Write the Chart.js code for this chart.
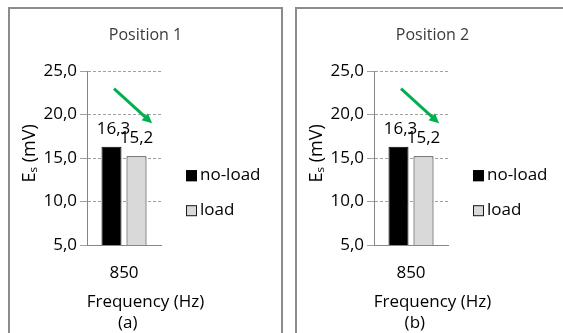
<!DOCTYPE html>
<html>
<head>
<meta charset="utf-8">
<script src="https://cdn.jsdelivr.net/npm/chart.js@4.4.1/dist/chart.umd.min.js"></script>
<style>
  body { margin: 0; background: #fff; width: 563px; height: 333px; overflow: hidden; position: relative; }
  .panel { position: absolute; top: 7px; width: 271px; height: 340px; border: 2px solid #8c8c8c; background: #fff; }
  #p1 { left: 8px; }
  #p2 { left: 295px; }
  canvas { display: block; }
</style>
</head>
<body>
<div class="panel" id="p1"><canvas id="c1" width="271" height="325"></canvas></div>
<div class="panel" id="p2"><canvas id="c2" width="271" height="325"></canvas></div>
<script>
// values
const frequencies = ["850"];
const seriesNames = ["no-load", "load"];
const pos1NoLoad = [16.3];
const pos1Load = [15.2];
const pos2NoLoad = [16.3];
const pos2Load = [15.2];
const yMin = 5;
const yMax = 25;
const yStep = 5;
const panelTitles = ["Position 1", "Position 2"];
const panelTags = ["(a)", "(b)"];

const FONT = "'Open Sans'";
Chart.defaults.font.family = FONT;
Chart.defaults.font.size = 17;
Chart.defaults.color = "#000";

const fmt = (v) => v.toFixed(1).replace(".", ",");

// numbers above the bars
const valueLabels = {
  id: "valueLabels",
  afterDatasetsDraw(chart) {
    const ctx = chart.ctx;
    ctx.save();
    ctx.font = "17px " + FONT;
    ctx.fillStyle = "#000";
    ctx.textAlign = "center";
    ctx.textBaseline = "alphabetic";
    chart.data.datasets.forEach((ds, i) => {
      chart.getDatasetMeta(i).data.forEach((bar, j) => {
        ctx.fillText(fmt(ds.data[j]), bar.x + (i === 0 ? 2 : 0), bar.y - 13);
      });
    });
    ctx.restore();
  },
};

// green arrow pointing from the no-load bar to the load bar
const trendArrow = {
  id: "trendArrow",
  afterDatasetsDraw(chart) {
    const ctx = chart.ctx;
    const y = chart.scales.y;
    const a = chart.getDatasetMeta(0).data[0];
    const b = chart.getDatasetMeta(1).data[0];
    const x0 = a.x + 2.5, y0 = y.getPixelForValue(23.0);
    const x1 = b.x + b.width * 0.78, y1 = y.getPixelForValue(19.0);
    const ang = Math.atan2(y1 - y0, x1 - x0);
    const head = 11;
    ctx.save();
    ctx.strokeStyle = "#00b050";
    ctx.fillStyle = "#00b050";
    ctx.lineWidth = 3;
    ctx.beginPath();
    ctx.moveTo(x0, y0);
    ctx.lineTo(x1 - Math.cos(ang) * head * 0.8, y1 - Math.sin(ang) * head * 0.8);
    ctx.stroke();
    ctx.beginPath();
    ctx.moveTo(x1, y1);
    ctx.lineTo(x1 - head * Math.cos(ang - 0.45), y1 - head * Math.sin(ang - 0.45));
    ctx.lineTo(x1 - head * Math.cos(ang + 0.45), y1 - head * Math.sin(ang + 0.45));
    ctx.closePath();
    ctx.fill();
    ctx.restore();
  },
};

// legend at the right of the plot, like excel puts it
const sideLegend = {
  id: "sideLegend",
  afterDraw(chart) {
    const { ctx, chartArea } = chart;
    ctx.save();
    ctx.font = "17px " + FONT;
    ctx.textBaseline = "middle";
    ctx.textAlign = "left";
    chart.data.datasets.forEach((ds, i) => {
      const x = chartArea.right + 25;
      const y = chartArea.top + 104 + i * 35;
      ctx.fillStyle = ds.backgroundColor;
      ctx.fillRect(x, y - 5, 11, 11);
      ctx.strokeStyle = ds.borderColor;
      ctx.lineWidth = 1;
      ctx.strokeRect(x + 0.5, y - 4.5, 10, 10);
      ctx.fillStyle = "#000";
      ctx.fillText(ds.label, x + 14, y);
    });
    ctx.restore();
  },
};

function makePanel(canvasId, title, tag, noLoad, load) {
  const canvas = document.getElementById(canvasId);
  return new Chart(canvas, {
    type: "bar",
    data: {
      labels: frequencies,
      datasets: [
        {
          label: seriesNames[0],
          data: noLoad,
          backgroundColor: "#000000",
          borderColor: "#000000",
          borderWidth: 1,
        },
        {
          label: seriesNames[1],
          data: load,
          backgroundColor: "#d9d9d9",
          borderColor: "#1a1a1a",
          borderWidth: 1,
        },
      ],
    },
    options: {
      responsive: false,
      animation: false,
      categoryPercentage: 0.676,
      barPercentage: 0.8,
      layout: { padding: 0 },
      plugins: {
        legend: { display: false },
        tooltip: { enabled: false },
        title: {
          display: true,
          text: title,
          color: "#3a3a3a",
          font: { size: 16, weight: "normal" },
          padding: { top: 17, bottom: 26 },
        },
        subtitle: {
          display: true,
          position: "bottom",
          // trailing spaces pull the panel tag under the bars, as in the figure
          text: ["Frequency (Hz)", tag + "        "],
          color: "#000",
          font: { size: 17, lineHeight: 21 / 17 },
          padding: { top: 5, bottom: 0 },
        },
      },
      scales: {
        x: {
          grid: { display: true, color: "rgba(0,0,0,0)", drawTicks: false },
          border: { color: "#868686", width: 1 },
          ticks: { padding: 18, maxRotation: 0, autoSkip: false },
          afterFit: (s) => {
            s.height = 42;
          },
        },
        y: {
          min: yMin,
          max: yMax,
          ticks: { stepSize: yStep, padding: 3, callback: (v) => fmt(v) },
          grid: { color: "#a0a0a0", tickLength: 7, tickColor: "#a0a0a0" },
          border: { color: "#868686", width: 1, dash: [3, 2] },
          title: {
            display: true,
            text: "  E\u209B (mV)",
            font: { size: 18 },
            padding: { top: 9, bottom: 0 },
          },
          afterFit: (s) => {
            s.width = 77;
          },
        },
        // empty right axis: keeps room for the legend without moving the title
        room: {
          type: "linear",
          position: "right",
          display: true,
          grid: { display: false, drawOnChartArea: false, drawTicks: false },
          border: { display: false },
          ticks: { display: false },
          afterFit: (s) => {
            s.width = canvas.width - 151;
          },
        },
      },
    },
    plugins: [valueLabels, trendArrow, sideLegend],
  });
}

makePanel("c1", panelTitles[0], panelTags[0], pos1NoLoad, pos1Load);
makePanel("c2", panelTitles[1], panelTags[1], pos2NoLoad, pos2Load);
</script>
</body>
</html>
